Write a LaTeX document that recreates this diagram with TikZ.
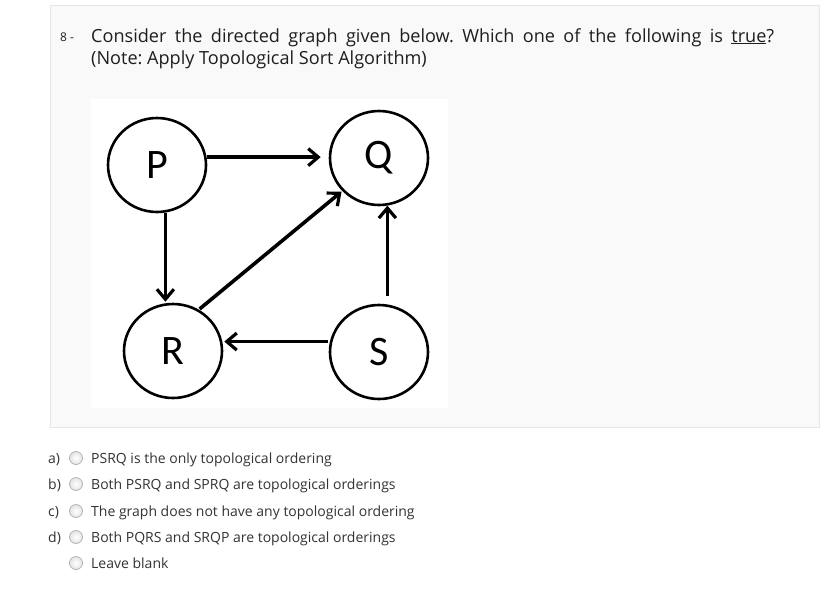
\documentclass[tikz,border=0pt]{standalone}
\usepackage{fontspec}
\setmainfont{Open Sans}
\newfontfamily\calib{Carlito}
\usetikzlibrary{arrows.meta,shapes.geometric}
\definecolor{panelbg}{HTML}{F9F9F9}
\definecolor{panelbd}{HTML}{E6E6E6}
\definecolor{titletxt}{HTML}{1E1E1E}
\definecolor{opttxt}{HTML}{333333}
\definecolor{radiobd}{HTML}{B4B4B4}
\definecolor{radiofill}{HTML}{E4E4E4}
\frenchspacing
\begin{document}
\begin{tikzpicture}[x=1pt,y=-1pt,
  vert/.style={draw, line width=2.6pt, ellipse, minimum width=98pt, minimum height=94pt,
    inner sep=0pt, font=\calib\fontsize{42}{42}\selectfont},
  edge/.style={line width=3.6pt, -{Straight Barb[length=10pt,width=17pt,line width=3.2pt]}},
  title/.style={anchor=base west, inner sep=0pt, text=titletxt, font=\fontsize{18.1}{22}\selectfont},
  opt/.style={anchor=base west, inner sep=0pt, text=opttxt, font=\fontsize{14}{16}\selectfont},
  radio/.style={circle, draw=radiobd, line width=0.8pt, inner color=white, outer color=radiofill,
    minimum size=13pt, inner sep=0pt}
]
\useasboundingbox[fill=white] (0,0) rectangle (836,606);
\draw[fill=panelbg, draw=panelbd, line width=1pt] (50.5,5.5) rectangle (819,427);
\fill[white] (91,99) rectangle (448,408);

% question
\node[anchor=base west, inner sep=0pt, text=titletxt, font=\fontsize{12}{14}\selectfont] (num) at (60,41) {8 -};
\node[title] (t1) at (91,42) {\makebox[683pt][s]{Consider the directed graph given below. Which one of the following is \underline{true}?}};
\node[title] (t2) at (91,64) {(Note: Apply Topological Sort Algorithm)};

% graph
\node[vert] (P) at (157,165) {P};
\node[vert] (Q) at (379,158) {Q};
\node[vert] (R) at (173,351) {R};
\node[vert] (S) at (379,352) {S};

\draw[edge, shorten >=8pt] (P.9) -- (P.9 -| Q.west);
\draw[edge, shorten >=1pt] (P.280) -- (P.280 |- R.north);
\draw[edge, shorten <=1pt, shorten >=1pt] (R.58) -- (Q.222);
\draw[edge, shorten <=8pt] (Q.280 |- S.north) -- (Q.280);
\draw[edge, shorten <=2pt, shorten >=1pt] (S.168) -- (S.168 -| R.east);

% options
\foreach \lab/\yy/\txt [count=\i] in {a)/463/PSRQ is the only topological ordering,
  b)/489/Both PSRQ and SPRQ are topological orderings,
  c)/516/The graph does not have any topological ordering,
  d)/542/Both PQRS and SRQP are topological orderings,
  /568/Leave blank}{
  \node[opt] (l\i) at (48,\yy) {\lab};
  \node[radio] (r\i) at (76,\yy-5) {};
  \node[opt] (o\i) at (91,\yy) {\txt};
}
\end{tikzpicture}
\end{document}
